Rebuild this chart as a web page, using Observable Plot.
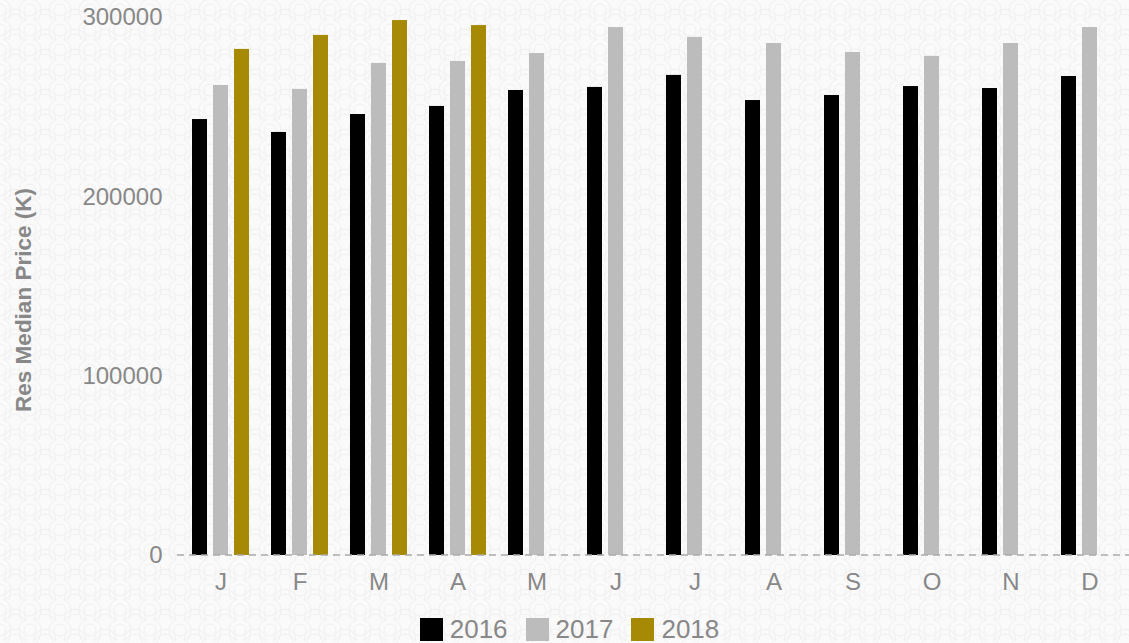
<!DOCTYPE html>
<html>
<head>
<meta charset="utf-8">
<script src="https://cdn.jsdelivr.net/npm/d3@7"></script>
<script src="https://cdn.jsdelivr.net/npm/@observablehq/plot@0.6"></script>
<style>
  html, body { margin: 0; padding: 0; width: 1129px; height: 643px; overflow: hidden; }
  body {
    background-color: #fafafa;
    background-image: url("data:image/svg+xml;utf8,<svg xmlns='http://www.w3.org/2000/svg' width='30' height='20'><g fill='none' stroke='%23efefef' stroke-width='1'><circle cx='15' cy='20' r='11'/><circle cx='15' cy='20' r='6'/><circle cx='0' cy='10' r='11'/><circle cx='30' cy='10' r='11'/><circle cx='0' cy='10' r='6'/><circle cx='30' cy='10' r='6'/></g></svg>");
    font-family: "Liberation Sans", Arial, sans-serif;
    position: relative;
  }
  #chart { position: absolute; left: 0; top: 0; }
  #legend { position: absolute; left: 14px; width: 1129px; top: 613px; display: flex; justify-content: center; }
  .lg-swatches { font-size: 26px !important; color: #888 !important; font-family: "Liberation Sans", Arial, sans-serif !important; }
  .lg-swatch { margin-right: 18px !important; }
  .lg-swatch > svg { margin-right: 7px !important; }
</style>
</head>
<body>
<div id="chart"></div>
<div id="legend"></div>
<script>
const months = ["Jan","Feb","Mar","Apr","May","Jun","Jul","Aug","Sep","Oct","Nov","Dec"];
const monthLabels = ["J","F","M","A","M","J","J","A","S","O","N","D"];
const years = ["2016","2017","2018"];
const colors = ["#000000","#bbbcbb","#a68a05"];
const values2016 = [243100,235900,245900,250400,259300,261000,267700,253700,256500,261500,260400,267100];
const values2017 = [262100,259900,274400,275500,279900,294400,288900,285500,280500,278300,285500,294400];
const values2018 = [282200,290000,298300,295500];
const yTicks = [0,100000,200000,300000];

const data = [];
[values2016, values2017, values2018].forEach((vals, yi) => {
  vals.forEach((v, mi) => data.push({month: months[mi], year: years[yi], value: v}));
});

const plot = Plot.plot({
  width: 1129,
  height: 610,
  marginLeft: 181,
  marginRight: 0,
  marginTop: 17,
  marginBottom: 55,
  style: {fontFamily: "Liberation Sans, Arial, sans-serif", fontSize: "24px", color: "#888", background: "transparent", overflow: "visible"},
  fx: {domain: months, padding: 0, label: null, axis: "bottom", tickSize: 0, tickPadding: 17,
       tickFormat: (d) => monthLabels[months.indexOf(d)]},
  x: {domain: years, axis: null, paddingInner: 0.3, paddingOuter: 0.49},
  y: {domain: [0, 300000], ticks: yTicks, tickFormat: (d) => String(d), tickSize: 0, tickPadding: 19,
      label: "Res Median Price (K)", labelAnchor: "center", labelArrow: false},
  color: {domain: years, range: colors},
  marks: [
    Plot.barY(data, {fx: "month", x: "year", y: "value", fill: "year"})
  ]
});
document.getElementById("chart").appendChild(plot);

// dashed baseline across the full plot width, positioned via the library's y scale
const y0 = plot.scale("y").apply(0);
d3.select(plot).append("line")
  .attr("x1", 177).attr("x2", 1129)
  .attr("y1", y0).attr("y2", y0)
  .attr("stroke", "#aaa").attr("stroke-width", 1.5)
  .attr("stroke-dasharray", "7,5");

// y axis label styling and placement
d3.select(plot).selectAll('[aria-label="y-axis label"]').attr("transform", null);
d3.select(plot).selectAll('[aria-label="y-axis label"] text')
  .attr("x", null).attr("y", null)
  .attr("transform", "translate(23,300) rotate(-90)")
  .attr("text-anchor", "middle")
  .attr("dy", "0.36em")
  .style("font-weight", "bold").style("font-size", "22.5px");

const legend = plot.legend("color", {swatchSize: 23, className: "lg"});
document.getElementById("legend").appendChild(legend);
</script>
</body>
</html>
